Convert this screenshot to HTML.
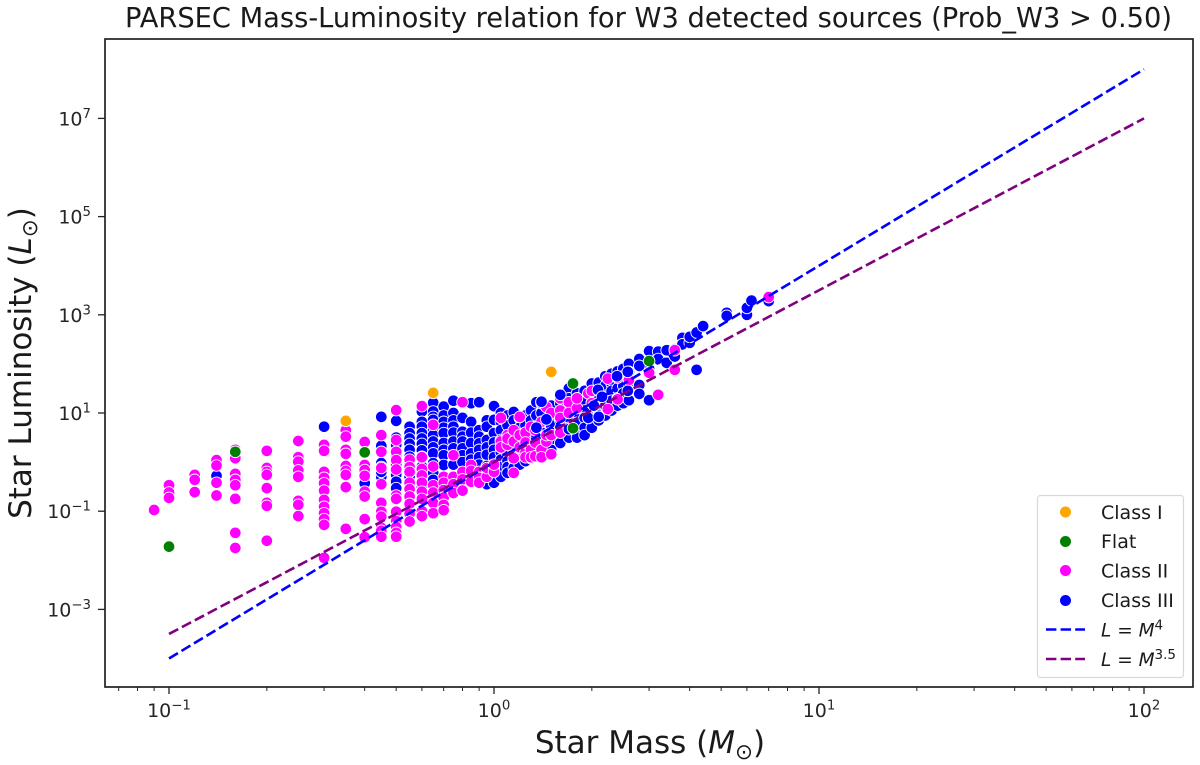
<!DOCTYPE html>
<html lang="en">
<head>
<meta charset="utf-8">
<title>PARSEC Mass-Luminosity relation</title>
<style>
html,body{margin:0;padding:0;background:#fff;width:1200px;height:765px;overflow:hidden}
svg{display:block;font-family:"DejaVu Sans","Liberation Sans",sans-serif;fill:#1a1a1a;filter:blur(0.35px)}
</style>
</head>
<body>
<svg id="chart" xmlns="http://www.w3.org/2000/svg" width="1200" height="765" viewBox="0 0 1200 765">
  <text x="648.5" y="27" text-anchor="middle" font-size="27.3" textLength="1047" lengthAdjust="spacingAndGlyphs">PARSEC Mass-Luminosity relation for W3 detected sources (Prob_W3 &gt; 0.50)</text>
  <text x="650" y="753" text-anchor="middle" font-size="31">Star Mass (<tspan font-style="italic">M</tspan><tspan font-size="21.5" dy="6">⊙</tspan><tspan dy="-6">)</tspan></text>
  <text transform="translate(31,363) rotate(-90)" text-anchor="middle" font-size="31">Star Luminosity (<tspan font-style="italic">L</tspan><tspan font-size="21.5" dy="6">⊙</tspan><tspan dy="-6">)</tspan></text>
  <g id="marks"></g>
  <g id="curves"></g>
  <rect x="105" y="39" width="1088" height="648" fill="none" stroke="#222" stroke-width="1.7"/>
  <g id="ticks"></g>
  <g>
    <rect x="1037.5" y="495.5" width="146" height="182" rx="3" fill="#fff" fill-opacity="0.85" stroke="#d8d8d8" stroke-width="1.2"/>
    <g><circle cx="1065.5" cy="512" r="5.5" fill="#ffa500"/><text x="1101" y="519" font-size="19">Class I</text></g>
    <g><circle cx="1065.5" cy="541.5" r="5.5" fill="#008000"/><text x="1101" y="548" font-size="19">Flat</text></g>
    <g><circle cx="1065.5" cy="570.5" r="5.5" fill="#ff00ff"/><text x="1101" y="577.5" font-size="19">Class II</text></g>
    <g><circle cx="1065.5" cy="600.5" r="5.5" fill="#0000ff"/><text x="1101" y="607" font-size="19">Class III</text></g>
    <g><line x1="1046" y1="629.5" x2="1085" y2="629.5" stroke="#0000ff" stroke-width="2.6" stroke-dasharray="10.4 4.2"/><text x="1101" y="636.5" font-size="18.5"><tspan font-style="italic">L</tspan> = <tspan font-style="italic">M</tspan><tspan font-size="13.5" dy="-7">4</tspan></text></g>
    <g><line x1="1046" y1="659" x2="1085" y2="659" stroke="#800080" stroke-width="2.6" stroke-dasharray="10.4 4.2"/><text x="1101" y="666" font-size="18.5"><tspan font-style="italic">L</tspan> = <tspan font-style="italic">M</tspan><tspan font-size="13.5" dy="-7">3.5</tspan></text></g>
  </g>
</svg>
<script>
/* ---- data: stellar mass columns and log10(L) values per class ---- */
const xMajorExponents = [-1, 0, 1, 2];
const xMinorMasses = [0.07,0.08,0.09,0.2,0.3,0.4,0.5,0.6,0.7,0.8,0.9,2,3,4,5,6,7,8,9,20,30,40,50,60,70,80,90];
const yMajorExponents = [-3, -1, 1, 3, 5, 7];
const curveMasses = [0.1, 100];
const curveExponents = [4, 3.5];

const classIMasses = [0.35, 0.65, 1.5];
const classILogL = [0.84, 1.41, 1.84];

const flatMasses = [0.1, 0.16, 0.4, 1.75, 1.75, 3.0];
const flatLogL = [-1.72, 0.21, 0.2, 1.6, 0.69, 2.06];

const classIIIMasses = [0.14,0.3,0.4,0.45,0.5,0.55,0.6,0.65,0.7,0.75,0.8,0.85,0.9,0.95,1.0,1.05,1.1,1.15,1.2,1.25,1.3,1.35,1.4,1.5,1.6,1.7,1.8,1.9,2.0,2.1,2.2,2.3,2.4,2.5,2.6,2.8,3.0,3.2,3.4,3.6,3.8,4.0,4.2,4.4,5.2,6.0,6.2,7.0];
const classIIILogL = [
  [-0.28],
  [0.72],
  [-0.43],
  [0.92,0.33,-0.02,-0.3,-0.2,-0.1],
  [0.84,0.5,0.35,0.1,-0.05,-0.26,-0.4,-0.53],
  [0.72,0.59,0.48,0.37,0.25,0.11,-0.02,-0.16,-0.3,-0.47,-0.7],
  [1.03,0.82,0.72,0.59,0.48,0.37,0.24,0.11,-0.09,-0.22,-0.36,-0.5],
  [1.21,1.03,0.92,0.86,0.65,0.55,0.42,0.3,0.18,-0.02,-0.22,-0.36],
  [1.13,0.95,0.82,0.7,0.59,0.39,0.25,0.14,-0.06,-0.7],
  [1.25,1.0,0.85,0.72,0.6,0.42,0.28,0.14,-0.05],
  [0.9,0.62,0.52,0.42,0.28,0.14,0.0],
  [1.2,0.82,0.6,0.39,0.18,0.05,-0.1],
  [1.22,0.65,0.52,0.38,0.25,0.1,-0.05],
  [0.85,0.72,0.45,0.3,0.15,-0.08,-0.45],
  [1.14,0.86,0.59,0.4,0.25,0.1,-0.05,-0.25,-0.42],
  [1.0,0.82,0.65,0.45,0.2,0.05,-0.1,-0.3],
  [0.95,0.75,0.55,0.35,0.15,0.02,-0.1,-0.22],
  [1.02,0.85,0.62,0.42,0.22,0.05,-0.12],
  [0.9,0.7,0.5,0.3,0.2,0.05,-0.05],
  [0.95,0.75,0.45,0.28,0.1,0.02],
  [1.05,0.85,0.65,0.45,0.3,0.25,0.08],
  [1.22,0.95,0.72,0.5,0.32,0.15],
  [1.23,1.0,0.8,0.6,0.5,0.28,0.18],
  [1.15,0.95,0.75,0.6,0.4,0.25],
  [1.37,1.2,1.0,0.85,0.7,0.52,0.39],
  [1.5,1.3,1.1,0.9,0.67,0.5],
  [1.4,1.2,1.0,0.8,0.6,0.5],
  [1.45,1.25,1.05,0.9,0.7,0.55],
  [1.6,1.4,1.2,0.9,0.85,0.7],
  [1.62,1.47,1.3,1.1,0.95,0.85],
  [1.75,1.55,1.35,1.15,0.95],
  [1.8,1.6,1.45,1.25,1.05],
  [1.85,1.75,1.5,1.3,1.15],
  [1.9,1.75,1.55,1.4,1.2],
  [2.0,1.84,1.6,1.45,1.26],
  [2.1,1.96,1.57,1.39],
  [2.26,2.05,1.9,1.26],
  [2.25,2.1],
  [2.28,2.02],
  [2.3,2.15],
  [2.53,2.4],
  [2.43,2.55],
  [2.64,1.88],
  [2.77],
  [3.04,2.98],
  [3.0,3.14],
  [3.29],
  [3.28]
];

const classIIMasses = [0.09,0.1,0.12,0.14,0.16,0.2,0.25,0.3,0.35,0.4,0.45,0.5,0.55,0.6,0.65,0.7,0.75,0.8,0.85,0.9,0.95,1.0,1.05,1.1,1.15,1.2,1.25,1.3,1.34,1.4,1.45,1.5,1.6,1.7,1.8,1.95,2.0,2.24,2.4,2.6,3.0,3.2,3.6,7.0];
const classIILogL = [
  [-0.975],
  [-0.47,-0.62,-0.73],
  [-0.26,-0.36,-0.61],
  [0.04,-0.07,-0.42,-0.68],
  [0.25,0.08,-0.24,-0.36,-0.47,-0.75,-1.44,-1.75],
  [0.23,-0.12,-0.2,-0.26,-0.53,-0.83,-0.89,-1.6],
  [0.43,0.1,0.01,-0.17,-0.3,-0.79,-0.87,-1.1],
  [0.35,0.23,-0.2,-0.32,-0.43,-0.58,-0.77,-0.91,-1.04,-1.16,-1.28,-1.95],
  [0.65,0.52,0.25,0.17,-0.08,-0.18,-0.26,-0.51,-1.36],
  [0.41,-0.06,-0.16,-0.28,-0.6,-0.7,-1.16,-1.53],
  [0.55,0.21,-0.12,-0.45,-0.83,-1.01,-1.11,-1.34,-1.4,-1.52],
  [1.06,0.45,0.21,0.04,-0.15,-0.68,-0.75,-1.01,-1.2,-1.32,-1.44,-1.52],
  [0.05,-0.1,-0.2,-0.42,-0.55,-0.7,-0.85,-1.05,-1.21],
  [1.14,0.1,-0.14,-0.27,-0.42,-0.6,-0.75,-1.0,-1.1],
  [0.76,-0.09,-0.47,-0.62,-0.83,-1.04],
  [-0.3,-0.42,-0.57,-0.72,-0.87,-0.98],
  [0.14,-0.3,-0.45,-0.63],
  [1.22,-0.2,-0.35,-0.58],
  [-0.06,-0.18,-0.4],
  [-0.2,-0.32,-0.42],
  [-0.3,-0.12],
  [-0.09,-0.2,-0.05],
  [0.9,0.42,0.3],
  [0.55,0.35,0.48],
  [0.65,0.08,-0.22,0.42],
  [0.92,0.55,0.3],
  [0.6,0.2,0.4,0.1],
  [0.72,0.25,0.1],
  [0.12,0.4,0.65],
  [1.2,0.82,0.25,0.1],
  [0.42,1.12,0.55],
  [0.55,0.16,1.0],
  [1.3,1.05,0.9,0.6],
  [1.22,1.0,0.7],
  [1.1,1.3],
  [0.9,1.4],
  [1.45,1.2],
  [1.08,1.7],
  [1.28,1.72],
  [1.67],
  [1.82],
  [1.37],
  [1.88,2.28],
  [3.36]
];

const classIIIFrontMasses = [2.39,2.09,2.15,2.03,1.95,2.1,1.7,1.6,1.4,1.45,1.35,2.58,2.8,2.58];
const classIIIFrontLogL = [1.75,1.47,1.33,1.15,0.9,0.92,0.67,1.37,1.23,0.87,0.7,1.84,1.96,1.45];

/* ---- axis functions ---- */
const svgNS = 'http://www.w3.org/2000/svg';
function xScale(mass){ return 494 + 325 * Math.log10(mass); }
function yScale(logL){ return 413 - 49.1 * (logL - 1); }

const marks = document.getElementById('marks');
const curves = document.getElementById('curves');
const ticks = document.getElementById('ticks');

function drawDot(parent, mass, logL, color){
  const c = document.createElementNS(svgNS, 'circle');
  
  
  c.setAttribute('cx', xScale(mass).toFixed(1));
  c.setAttribute('cy', yScale(logL).toFixed(1));
  c.setAttribute('r', '5.8');
  c.setAttribute('fill', color);
  c.setAttribute('stroke', '#fff');
  c.setAttribute('stroke-width', '0.9');
  parent.appendChild(c);
}
function drawColumns(masses, values, color){
  masses.forEach(function(m, i){
    values[i].forEach(function(v){ drawDot(marks, m, v, color); });
  });
}
function drawLine(x1, y1, x2, y2, w){
  const l = document.createElementNS(svgNS, 'line');
  
  
  l.setAttribute('x1', x1);
  l.setAttribute('y1', y1);
  l.setAttribute('x2', x2);
  l.setAttribute('y2', y2);
  l.setAttribute('stroke', '#222');
  l.setAttribute('stroke-width', w);
  ticks.appendChild(l);
}
function drawPowerLabel(name, x, y, anchor, exponent){
  const t = document.createElementNS(svgNS, 'text');
  
  
  t.setAttribute('x', x);
  t.setAttribute('y', y);
  t.setAttribute('text-anchor', anchor);
  t.setAttribute('font-size', '19');
  t.setAttribute('fill', '#262626');
  const sup = document.createElementNS(svgNS, 'tspan');
  sup.setAttribute('font-size', '13.3');
  sup.setAttribute('dy', '-7.5');
  sup.textContent = String(exponent).replace('-', '\u2212');
  t.appendChild(document.createTextNode('10'));
  t.appendChild(sup);
  ticks.appendChild(t);
}

/* points */
drawColumns(classIIIMasses, classIIILogL, '#0000ff');
drawColumns(classIIMasses, classIILogL, '#ff00ff');
classIIIFrontMasses.forEach(function(m, i){ drawDot(marks, m, classIIIFrontLogL[i], '#0000ff'); });
classIMasses.forEach(function(m, i){ drawDot(marks, m, classILogL[i], '#ffa500'); });
flatMasses.forEach(function(m, i){ drawDot(marks, m, flatLogL[i], '#008000'); });

/* reference curves */
const curveColors = ['#0000ff', '#800080'];
curveExponents.forEach(function(p, i){
  const l = document.createElementNS(svgNS, 'line');
  
  
  l.setAttribute('x1', xScale(curveMasses[0]));
  l.setAttribute('y1', yScale(p * Math.log10(curveMasses[0])));
  l.setAttribute('x2', xScale(curveMasses[1]));
  l.setAttribute('y2', yScale(p * Math.log10(curveMasses[1])));
  l.setAttribute('stroke', curveColors[i]);
  l.setAttribute('stroke-width', '2.6');
  l.setAttribute('stroke-dasharray', '10.4 4.2');
  curves.appendChild(l);
});

/* ticks */
xMajorExponents.forEach(function(e){
  const x = xScale(Math.pow(10, e));
  drawLine(x, 687, x, 694, 1.3);
  drawPowerLabel('x-tick-label', x, 717, 'middle', e);
});
xMinorMasses.forEach(function(m){
  const x = xScale(m);
  drawLine(x, 687, x, 691, 1);
});
yMajorExponents.forEach(function(e){
  const y = yScale(e);
  drawLine(98, y, 105, y, 1.3);
  drawPowerLabel('y-tick-label', 91, y + 7, 'end', e);
});
</script>
</body>
</html>
